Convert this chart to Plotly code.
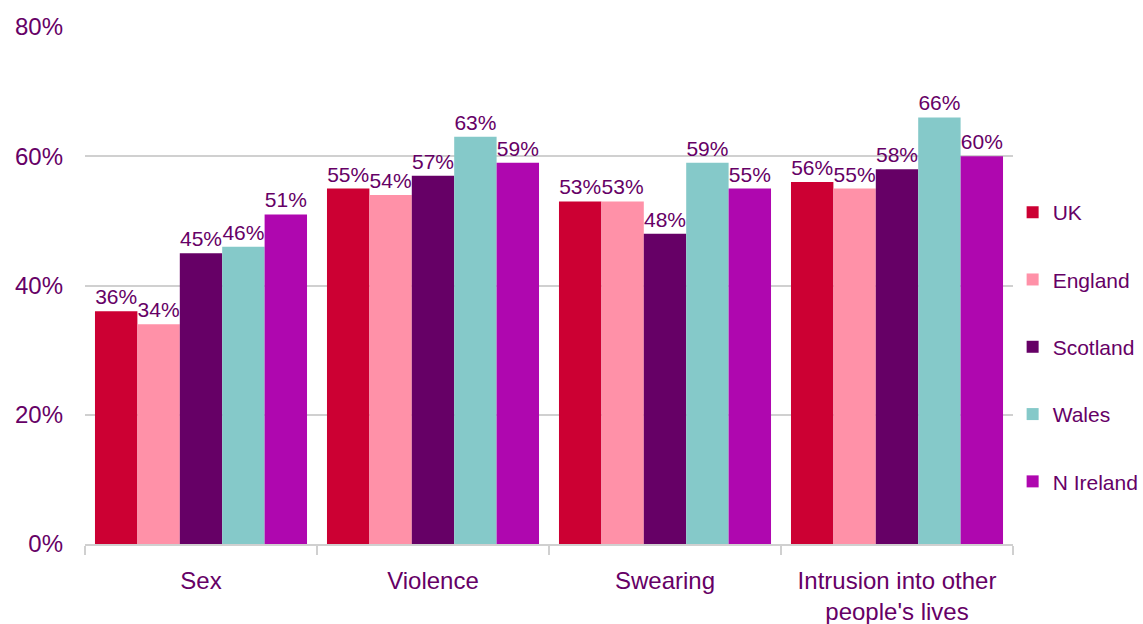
import plotly.graph_objects as go

categories = ["Sex", "Violence", "Swearing", "Intrusion into other<br>people's lives"]
series_names = ["UK", "England", "Scotland", "Wales", "N Ireland"]
uk = [36, 55, 53, 56]
england = [34, 54, 53, 55]
scotland = [45, 57, 48, 58]
wales = [46, 63, 59, 66]
n_ireland = [51, 59, 55, 60]
y_ticks = [0, 20, 40, 60, 80]

values = [uk, england, scotland, wales, n_ireland]
colors = ["#CC0033", "#FF91A8", "#660066", "#85C9C9", "#AF07AF"]
text_color = "#660066"
font_family = "Liberation Sans, Arial, sans-serif"

fig = go.Figure()
for i, (name, vals) in enumerate(zip(series_names, values)):
    fig.add_trace(go.Bar(
        name=name, x=categories, y=vals,
        marker=dict(color=colors[i], line=dict(width=0)),
        text=[f"{v}%" for v in vals],
        textposition="outside",
        textfont=dict(color=text_color, size=21, family=font_family),
        constraintext="none",
        cliponaxis=False,
        legendgroup=name,
    ))

fig.update_layout(
    barmode="group",
    bargap=0.086,
    bargroupgap=0,
    width=1143, height=624,
    margin=dict(l=85, r=130, t=27, b=80, autoexpand=False),
    plot_bgcolor="white", paper_bgcolor="white",
    font=dict(family=font_family, color=text_color, size=21),
    legend=dict(
        x=0.9996, xanchor="left", y=0.381, yanchor="middle",
        traceorder="grouped", tracegroupgap=37,
        font=dict(size=21, color=text_color),
        itemwidth=30,
    ),
    showlegend=True,
)
fig.update_yaxes(
    range=[0, 80], tickvals=y_ticks, ticktext=[f"{v}%" for v in y_ticks],
    showgrid=True, gridcolor="#D0D0D0", gridwidth=2,
    zeroline=False, showline=False, ticks="",
    tickfont=dict(size=24, color=text_color),
    ticklabelstandoff=21, automargin=False,
)
fig.update_xaxes(
    showline=True, linecolor="#D0D0D0", linewidth=2,
    ticks="outside", tickson="boundaries", ticklen=9, tickcolor="#D0D0D0", tickwidth=2,
    tickfont=dict(size=24, color=text_color),
    ticklabelstandoff=14, automargin=False,
)

fig.write_html("out.html")
